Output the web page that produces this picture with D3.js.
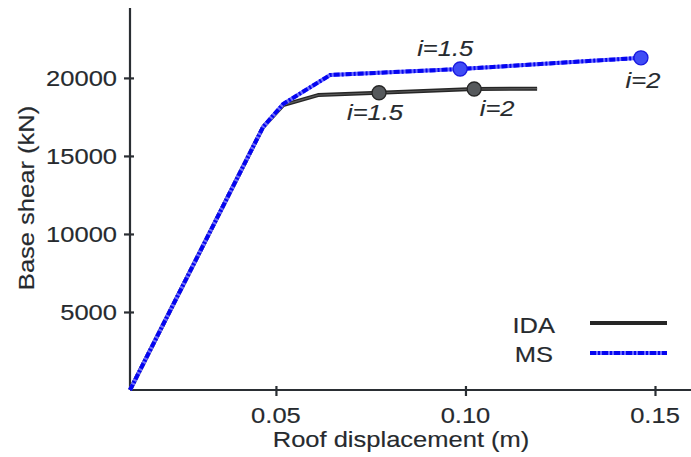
<!DOCTYPE html>
<html>
<head>
<meta charset="utf-8">
<script src="https://cdnjs.cloudflare.com/ajax/libs/d3/7.8.5/d3.min.js"></script>
<style>
	body{ margin:0; background:white; }
	text{ font-family:"Liberation Sans", Arial, sans-serif; fill:#262a2e; stroke:#262a2e; stroke-width:0.15; }
</style>
</head>
<body>
<svg id="chart" width="691" height="457"></svg>
<script>
	// data
	var idaX = [0.0115, 0.0466, 0.0519, 0.0611, 0.0772, 0.1023, 0.1189];
	var idaY = [0, 16850, 18260, 18900, 19050, 19290, 19310];
	var msX = [0.0115, 0.0466, 0.0519, 0.0643, 0.0986, 0.1463];
	var msY = [0, 16850, 18330, 20185, 20570, 21290];
	var idaMarkX = [0.0772, 0.1023];
	var idaMarkY = [19050, 19290];
	var msMarkX = [0.0986, 0.1463];
	var msMarkY = [20570, 21290];
	var markLabels = ["i=1.5", "i=2"];
	var xTicks = [0.05, 0.10, 0.15];
	var yTicks = [5000, 10000, 15000, 20000];
	var seriesNames = ["IDA", "MS"];

	var STRETCH = 1.16, FONT = 22, INK = "#2a2e33";
	var svg = d3.select("#chart");

	var x = d3.scaleLinear().domain([0.0115, 0.1595]).range([130, 691]);
	var y = d3.scaleLinear().domain([0, 24480]).range([390, 8]);

	function label(g, px, py, txt, anchor, italic, rot){
		return g.append("text")
			.attr("transform", "translate(" + px + "," + py + ")" + (rot ? " rotate(" + rot + ")" : "") + " scale(" + STRETCH + ",1)")
			.attr("text-anchor", anchor)
			.style("font-size", FONT + "px")
			.style("font-style", italic ? "italic" : "normal")
			.text(txt);
	}

	// axes
	var gx = svg.append("g").attr("transform", "translate(0,390)")
		.call(d3.axisBottom(x).tickValues(xTicks).tickSize(6).tickFormat(d3.format(".2f")));
	var gy = svg.append("g").attr("transform", "translate(130,0)")
		.call(d3.axisLeft(y).tickValues(yTicks).tickSize(6).tickFormat(d3.format("d")));
	[gx, gy].forEach(function(g){
		g.select(".domain").attr("stroke", INK).attr("stroke-width", 2.2);
		g.selectAll(".tick line").attr("stroke", INK).attr("stroke-width", 2.2);
		g.selectAll(".tick text").remove();
	});
	gx.selectAll(".domain").attr("d", "M130,0H691");
	gy.selectAll(".domain").attr("d", "M0,8V390");
	gx.selectAll(".tick line").attr("y1", -4).attr("y2", 6);
	gy.selectAll(".tick line").attr("x1", 4).attr("x2", -6);

	xTicks.forEach(function(t){ label(svg, x(t), 423, d3.format(".2f")(t), "middle"); });
	yTicks.forEach(function(t){ label(svg, 117, y(t) + 8, t, "end"); });

	label(svg, 401, 447, "Roof displacement (m)", "middle");
	label(svg, 34, 198, "Base shear (kN)", "middle", false, -90);

	var line = d3.line().x(function(d){ return x(d[0]); }).y(function(d){ return y(d[1]); });
	var ida = d3.zip(idaX, idaY), ms = d3.zip(msX, msY);

	// IDA
	svg.append("path").datum(ida).attr("d", line)
		.attr("fill", "none").attr("stroke", "#262626").attr("stroke-width", 4)
		.attr("stroke-linejoin", "round");
	svg.append("path").datum(ida).attr("d", line)
		.attr("fill", "none").attr("stroke", "#5a5a5a").attr("stroke-width", 1.2);

	// MS
	function msLine(g, data, path){
		var p1 = g.append("path").attr("fill", "none").attr("stroke", "#6e6eff").attr("stroke-width", 4);
		var p2 = g.append("path").attr("fill", "none").attr("stroke", "#0505f0").attr("stroke-width", 4)
			.attr("stroke-dasharray", "6,2,2,2");
		if(path){ p1.attr("d", path); p2.attr("d", path); }
		else { p1.datum(data).attr("d", line); p2.datum(data).attr("d", line); }
	}
	msLine(svg, ms);

	// markers
	svg.selectAll(".idaMark").data(d3.zip(idaMarkX, idaMarkY)).enter().append("circle")
		.attr("cx", function(d){ return x(d[0]); }).attr("cy", function(d){ return y(d[1]); })
		.attr("r", 7).attr("fill", "#56595c").attr("stroke", "#262626").attr("stroke-width", 1.3);
	svg.selectAll(".msMark").data(d3.zip(msMarkX, msMarkY)).enter().append("circle")
		.attr("cx", function(d){ return x(d[0]); }).attr("cy", function(d){ return y(d[1]); })
		.attr("r", 7).attr("fill", "#3f4cf5").attr("stroke", "#1a1ae0").attr("stroke-width", 1.3);

	// marker labels
	var idaOff = [[-4, 27], [23, 27]], msOff = [[-15, -13], [2, 30]];
	idaMarkX.forEach(function(v, i){
		label(svg, x(v) + idaOff[i][0], y(idaMarkY[i]) + idaOff[i][1], markLabels[i], "middle", true);
	});
	msMarkX.forEach(function(v, i){
		label(svg, x(v) + msOff[i][0], y(msMarkY[i]) + msOff[i][1], markLabels[i], "middle", true);
	});

	// legend
	label(svg, 555, 333, seriesNames[0], "end");
	label(svg, 553, 362, seriesNames[1], "end");
	svg.append("path").attr("d", "M590,323H667").attr("stroke", "#262626").attr("stroke-width", 4);
	msLine(svg, null, "M590,353H667");
</script>
</body>
</html>
